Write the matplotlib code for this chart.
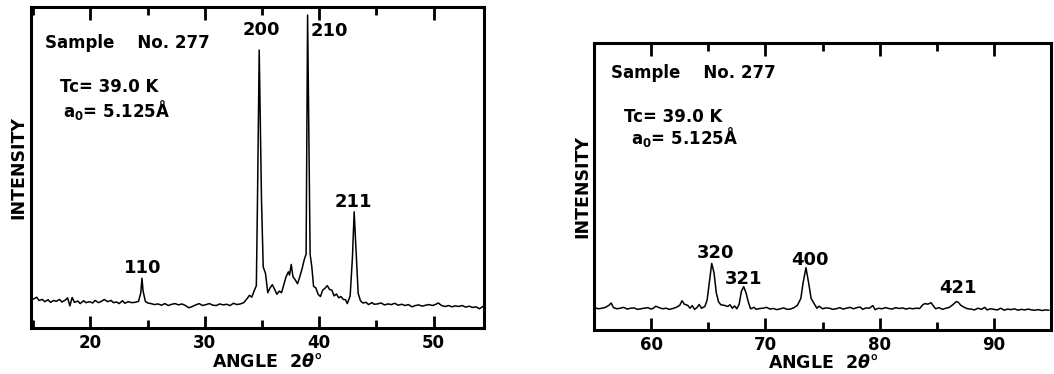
import matplotlib
matplotlib.use("Agg")
import matplotlib.pyplot as plt
from matplotlib.ticker import MultipleLocator

plt.rcParams.update({
    "font.family": "DejaVu Sans",
    "font.weight": "bold",
    "mathtext.fontset": "dejavusans",
})

# ---------------- data (intensity in arbitrary units, 0-100 per panel) ----------------
left_angle = [
    15.0, 15.3, 15.5, 15.8, 16.0, 16.3, 16.5, 16.8, 17.0, 17.3, 17.5, 17.8, 18.0, 18.2,
    18.4, 18.6, 18.9, 19.1, 19.4, 19.6, 19.9, 20.2, 20.4, 20.7, 21.0, 21.2, 21.5, 21.8,
    22.0, 22.3, 22.5, 22.8, 23.0, 23.3, 23.6, 23.9, 24.2, 24.4, 24.5, 24.6, 24.8, 25.0,
    25.3, 25.6, 25.9, 26.2, 26.5, 26.8, 27.1, 27.4, 27.7, 28.0, 28.3, 28.6, 28.9, 29.2,
    29.5, 29.8, 30.1, 30.4, 30.7, 31.0, 31.3, 31.6, 31.9, 32.2, 32.5, 32.8, 33.1, 33.4,
    33.7, 33.9, 34.1, 34.3, 34.5, 34.6, 34.75, 34.95, 35.1, 35.3, 35.5, 35.7, 35.9, 36.1,
    36.3, 36.5, 36.7, 36.9, 37.1, 37.3, 37.4, 37.55, 37.7, 37.9, 38.1, 38.3, 38.5, 38.7,
    38.85, 38.98, 39.2, 39.35, 39.5, 39.7, 39.9, 40.1, 40.3, 40.5, 40.7, 40.9, 41.1, 41.3,
    41.5, 41.7, 41.9, 42.1, 42.3, 42.45, 42.7, 42.9, 43.05, 43.25, 43.4, 43.6, 43.8, 44.1,
    44.3, 44.6, 44.8, 45.1, 45.4, 45.7, 46.0, 46.3, 46.6, 46.9, 47.2, 47.5, 47.8, 48.1,
    48.4, 48.7, 49.0, 49.3, 49.6, 49.9, 50.2, 50.4, 50.7, 51.0, 51.3, 51.6, 51.9, 52.2,
    52.5, 52.8, 53.1, 53.4, 53.7, 54.0, 54.3,
]
left_intensity = [
    9.0, 9.6, 8.6, 8.9, 8.2, 8.8, 8.0, 8.6, 8.3, 8.9, 8.1, 8.7, 9.4, 6.9,
    9.5, 8.0, 8.4, 7.6, 8.5, 7.9, 8.2, 7.8, 8.6, 7.9, 8.4, 8.9, 8.2, 8.6,
    7.9, 8.1, 7.6, 8.5, 7.7, 8.2, 7.9, 8.0, 8.3, 11.0, 15.5, 11.5, 8.3, 7.8,
    7.6, 7.3, 7.5, 7.1, 7.6, 7.0, 7.4, 7.6, 7.2, 7.5, 7.0, 6.3, 6.7, 7.2,
    7.6, 7.0, 7.3, 7.6, 7.1, 7.0, 7.5, 7.2, 7.4, 7.0, 7.7, 7.3, 7.5, 7.9,
    9.2, 10.2, 9.6, 11.5, 13.2, 40.0, 86.6, 40.0, 19.0, 17.0, 11.0, 12.5, 13.5, 12.0,
    10.5, 11.5, 11.0, 13.5, 16.0, 17.5, 16.5, 19.8, 16.0, 15.0, 13.8, 16.0, 18.5, 21.5,
    23.0, 97.5, 23.0, 19.0, 13.0, 12.5, 10.5, 9.8, 11.8, 12.4, 13.2, 12.0, 11.8, 10.0,
    10.6, 9.4, 9.8, 8.9, 8.8, 7.6, 10.0, 22.0, 36.2, 22.0, 10.8, 8.5, 7.8, 8.0,
    7.3, 7.9, 7.4, 7.5, 7.8, 7.2, 7.5, 7.3, 7.7, 7.1, 7.4, 7.0, 7.3, 6.6,
    7.0, 7.2, 6.8, 7.1, 7.3, 7.0, 7.4, 7.8, 7.0, 6.7, 7.0, 6.6, 6.9, 6.7,
    7.0, 6.5, 6.8, 6.4, 6.6, 6.0, 6.7,
]

right_angle = [
    55.1, 55.4, 55.7, 56.0, 56.3, 56.5, 56.7, 57.0, 57.3, 57.6, 57.9, 58.2, 58.5, 58.8,
    59.1, 59.4, 59.7, 60.0, 60.2, 60.4, 60.7, 61.0, 61.3, 61.6, 61.9, 62.2, 62.5, 62.7,
    62.9, 63.2, 63.4, 63.6, 63.8, 64.0, 64.2, 64.4, 64.7, 64.9, 65.1, 65.3, 65.5, 65.7,
    65.9, 66.1, 66.4, 66.7, 66.9, 67.1, 67.3, 67.5, 67.7, 67.9, 68.1, 68.3, 68.5, 68.7,
    69.0, 69.2, 69.5, 69.8, 70.1, 70.4, 70.7, 71.0, 71.3, 71.6, 71.9, 72.2, 72.5, 72.8,
    73.1, 73.3, 73.55, 73.8, 74.0, 74.3, 74.5, 74.7, 75.0, 75.3, 75.6, 75.9, 76.2, 76.5,
    76.8, 77.1, 77.4, 77.7, 78.0, 78.3, 78.5, 78.8, 79.1, 79.4, 79.6, 79.9, 80.2, 80.5,
    80.8, 81.1, 81.4, 81.7, 82.0, 82.3, 82.6, 82.9, 83.2, 83.5, 83.8, 84.0, 84.2, 84.5,
    84.7, 84.9, 85.2, 85.5, 85.8, 86.1, 86.4, 86.7, 86.9, 87.1, 87.4, 87.7, 88.0, 88.3,
    88.6, 88.9, 89.2, 89.4, 89.7, 90.0, 90.3, 90.6, 90.9, 91.2, 91.5, 91.8, 92.1, 92.4,
    92.7, 93.0, 93.3, 93.6, 93.9, 94.2, 94.5, 94.8,
]
right_intensity = [
    7.7, 7.4, 7.6, 7.9, 8.6, 9.4, 7.8, 7.4, 7.6, 7.9, 7.3, 7.6, 7.7, 7.2,
    7.4, 7.6, 7.8, 7.3, 7.6, 8.3, 7.8, 7.4, 7.6, 7.2, 7.5, 7.9, 8.6, 10.2,
    9.0, 8.6, 7.6, 8.5, 7.2, 7.8, 8.9, 7.6, 8.2, 10.5, 17.0, 23.2, 20.0, 13.0,
    9.8, 8.8, 8.6, 8.2, 8.8, 7.6, 8.4, 7.4, 9.0, 13.5, 15.1, 13.0, 9.8, 7.4,
    7.9, 7.2, 7.5, 7.6, 7.9, 7.3, 7.5, 7.1, 7.4, 7.7, 7.2, 7.3, 7.8, 8.6,
    11.0, 16.5, 21.7, 16.0, 11.0, 9.0, 7.6, 8.3, 7.4, 7.7, 7.6, 7.2, 7.4, 7.8,
    7.3, 7.6, 7.9, 7.4, 7.8, 8.0, 7.2, 7.7, 7.6, 8.5, 7.1, 7.6, 7.4, 7.8,
    7.5, 7.3, 7.8, 7.5, 7.7, 7.3, 7.6, 7.4, 7.6, 7.5, 8.9, 9.2, 9.0, 9.5,
    8.4, 7.4, 7.8, 7.2, 7.6, 7.9, 8.8, 9.9, 9.6, 8.6, 7.9, 7.4, 7.3, 7.0,
    7.6, 7.2, 7.9, 7.0, 7.4, 7.2, 7.0, 7.6, 6.9, 7.3, 7.1, 7.4, 6.9, 7.2,
    7.0, 7.3, 7.0, 6.9, 7.1, 6.8, 7.0, 6.9,
]

left_peaks = ["110", "200", "210", "211"]
left_peak_pos = [(24.6, 18.7, "center"), (34.9, 92.8, "center"), (39.25, 92.5, "left"), (43.0, 39.3, "center")]
right_peaks = ["320", "321", "400", "421"]
right_peak_pos = [(65.6, 26.8, "center"), (68.07, 17.8, "center"), (73.9, 24.4, "center"), (86.85, 14.6, "center")]

# ---------------- figure ----------------
fig = plt.figure(figsize=(10.54, 3.74), dpi=100)
ax1 = fig.add_axes([0.0294, 0.123, 0.4298, 0.858])
ax2 = fig.add_axes([0.5636, 0.1176, 0.4336, 0.7674])


def style(ax, xlim, major):
    ax.set_xlim(*xlim)
    ax.set_ylim(0, 100)
    ax.set_yticks([])
    ax.xaxis.set_major_locator(MultipleLocator(major))
    ax.xaxis.set_minor_locator(MultipleLocator(major / 2))
    ax.tick_params(axis="x", which="both", direction="in", top=True, bottom=True,
                   width=2.0, labelsize=12, pad=4)
    ax.tick_params(axis="x", which="major", length=9)
    ax.tick_params(axis="x", which="minor", length=6)
    for lab in ax.get_xticklabels():
        lab.set_fontweight("bold")
    for sp in ax.spines.values():
        sp.set_linewidth(2.2)


def info(ax, xs, ys):
    ax.text(xs[0], ys[0], "Sample    No. 277", transform=ax.transAxes,
            fontsize=12, ha="left", va="center")
    ax.text(xs[1], ys[1], "Tc= 39.0 K", transform=ax.transAxes,
            fontsize=12, ha="left", va="center")
    ax.text(xs[2], ys[2], "a$_\\mathregular{0}$= 5.125Å", transform=ax.transAxes,
            fontsize=12, ha="left", va="center")


ax1.plot(left_angle, left_intensity, color="black", lw=1.1)
style(ax1, (14.8, 54.4), 10)
for lab, (x, y, ha) in zip(left_peaks, left_peak_pos):
    ax1.text(x, y, lab, ha=ha, va="center", fontsize=13)
info(ax1, (0.031, 0.064, 0.071), (0.888, 0.751, 0.679))

ax2.plot(right_angle, right_intensity, color="black", lw=1.1)
style(ax2, (55.0, 95.0), 10)
for lab, (x, y, ha) in zip(right_peaks, right_peak_pos):
    ax2.text(x, y, lab, ha=ha, va="center", fontsize=13)
info(ax2, (0.037, 0.066, 0.081), (0.895, 0.742, 0.672))

# axis labels
for x, y in [(18 / 1054, 1 - 168 / 374), (582 / 1054, 1 - 187 / 374)]:
    fig.text(x, y, "INTENSITY", rotation=90, ha="center", va="center", fontsize=12.5)
for x, y in [(267 / 1054, 1 - 362 / 374), (823 / 1054, 1 - 363 / 374)]:
    fig.text(x, y, "ANGLE  2$\\theta$°", ha="center", va="center", fontsize=12.5)

fig.savefig("out.png", dpi=100, facecolor="white")
